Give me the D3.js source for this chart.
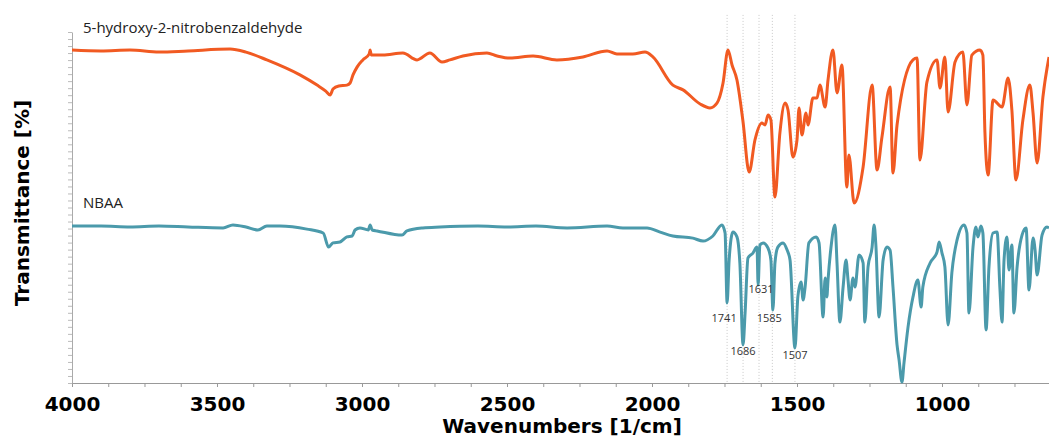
<!DOCTYPE html>
<html>
<head>
<meta charset="utf-8">
<script src="https://cdn.jsdelivr.net/npm/d3@7"></script>
<style>
  body { margin: 0; background: #fff; }
  svg { display: block; }
</style>
</head>
<body>
<svg id="chart"></svg>
<script>
// wavenumbers [1/cm] and transmittance (offset, arbitrary units)
var wnOrange = [4000, 3900, 3800, 3700, 3600, 3455, 3400, 3328, 3214, 3155, 3125, 3110, 3100, 3080, 3052, 3041, 3031, 3017, 2997, 2975, 2972, 2968, 2928, 2859, 2810, 2766, 2724, 2697, 2652, 2569, 2534, 2490, 2410, 2328, 2238, 2155, 2121, 2066, 2024, 1997, 1928, 1893, 1834, 1800, 1776, 1755, 1738, 1724, 1707, 1690, 1686, 1665, 1645, 1621, 1610, 1600, 1590, 1576, 1559, 1541, 1531, 1514, 1500, 1493, 1483, 1469, 1462, 1445, 1431, 1421, 1403, 1393, 1376, 1362, 1345, 1328, 1321, 1303, 1272, 1241, 1224, 1207, 1179, 1169, 1155, 1100, 1086, 1076, 1052, 1017, 1007, 990, 979, 955, 928, 914, 897, 869, 859, 852, 841, 824, 793, 772, 759, 745, 721, 697, 686, 672, 652, 631];
var tOrange = [111, 110.7, 111, 110.3, 110.7, 111.3, 110.3, 107.7, 102.7, 99.3, 97.3, 96, 98, 99, 99.3, 100, 102.7, 105.3, 107.7, 109.7, 111, 109.3, 109.3, 110, 107.7, 110, 107, 107.7, 109, 110, 109, 108.3, 109, 107.7, 108.7, 110.7, 109.7, 109.7, 110.3, 108.7, 99.3, 97.7, 93, 91.7, 93.3, 100, 111, 106, 101, 90, 87, 70.3, 81, 86.7, 86, 89.3, 87.7, 62, 83.3, 93.3, 91, 75.3, 81, 91.7, 82.7, 90, 86, 95, 95, 99.3, 92, 101, 111, 96.7, 106, 65.3, 76, 60, 72, 99.3, 71, 82, 98.7, 70, 86, 107.7, 108.3, 74.3, 100.3, 107.7, 98.3, 108.7, 90.3, 107, 110.3, 92.7, 109.3, 111, 109.3, 83.7, 69.3, 94.3, 92, 101.7, 91, 67.7, 87.7, 99.3, 90, 73.3, 95.3, 108.7];

var wnTeal = [4000, 3900, 3800, 3700, 3600, 3479, 3445, 3400, 3359, 3328, 3283, 3190, 3134, 3115, 3100, 3076, 3052, 3034, 3024, 3007, 2978, 2972, 2965, 2948, 2862, 2845, 2790, 2731, 2600, 2500, 2400, 2293, 2155, 2100, 2017, 1972, 1928, 1859, 1824, 1790, 1759, 1748, 1741, 1734, 1721, 1707, 1697, 1686, 1679, 1669, 1652, 1638, 1634, 1628, 1617, 1600, 1590, 1583, 1576, 1566, 1548, 1534, 1524, 1507, 1497, 1486, 1479, 1472, 1459, 1434, 1424, 1410, 1403, 1397, 1393, 1383, 1369, 1362, 1352, 1341, 1331, 1324, 1317, 1307, 1300, 1286, 1272, 1266, 1255, 1241, 1234, 1228, 1217, 1203, 1190, 1179, 1169, 1155, 1148, 1138, 1131, 1117, 1100, 1083, 1072, 1066, 1041, 1017, 1010, 1000, 990, 979, 966, 948, 924, 914, 907, 893, 883, 876, 866, 859, 848, 838, 824, 810, 800, 793, 786, 776, 769, 759, 752, 741, 724, 710, 700, 686, 679, 672, 655, 638, 631];
var tTeal = [52.3, 52.3, 52, 52.3, 52, 51.7, 52.7, 52, 51, 52.3, 52.3, 51.3, 50, 45.3, 46.7, 47, 48.7, 49, 51, 51.7, 51, 52.7, 51, 50.7, 49.3, 50.7, 51.7, 52, 52.3, 52, 52.3, 51.7, 52.3, 51.7, 51.7, 50.3, 49, 48.3, 47.3, 49, 52.7, 50, 26.7, 41, 50.3, 48.7, 40, 12.7, 23.3, 41.7, 43.3, 45.3, 32.7, 46, 46.7, 45, 41, 24.3, 40, 45.3, 46.7, 44.3, 41, 11.7, 28.7, 33.7, 27.7, 32, 46.7, 48.7, 46.7, 22, 35, 28.7, 34.3, 45, 52.7, 40, 20.3, 32, 41, 34.3, 27.7, 35, 32, 42.7, 40, 20.3, 38.7, 45.3, 52.7, 46, 22, 41, 45.3, 44.3, 32, 12.7, 7.7, 0.3, 6.7, 18.7, 28.7, 34.3, 25.3, 32, 40, 43.7, 47, 43.3, 38.7, 19.3, 36.7, 47.7, 52.7, 50, 23.3, 45.3, 52, 48.7, 52.3, 50, 17.7, 38.7, 50, 50.3, 31, 20.3, 41, 48.7, 37.7, 46, 23.3, 38.7, 49.3, 51.7, 31, 48.3, 44.3, 36, 49.3, 52, 51.7];

var peakLabels = ["1741", "1686", "1631", "1585", "1507"];
var peakLabelT = [20.3, 9.3, 30, 20.3, 8];
var xTickLabels = [4000, 3500, 3000, 2500, 2000, 1500, 1000];
var seriesNames = ["5-hydroxy-2-nitrobenzaldehyde", "NBAA"];
var seriesColors = ["#f15a22", "#4b9aab"];

var width = 1049, height = 439;
var svg = d3.select("#chart").attr("width", width).attr("height", height);

var x = d3.scaleLinear().domain([4000, 631]).range([72, 1049]);
var y = d3.scaleLinear().domain([0, 117]).range([383, 32]);

// dotted marker lines
svg.selectAll(".marker")
  .data(peakLabels)
  .enter().append("line")
  .attr("x1", function (d) { return x(+d); })
  .attr("x2", function (d) { return x(+d); })
  .attr("y1", y(122.7))
  .attr("y2", y(0))
  .attr("stroke", "#c8c8c8")
  .attr("stroke-width", 1)
  .attr("stroke-dasharray", "1,2");

// axes
var xAxis = d3.axisBottom(x)
  .tickValues(d3.range(4000, 630, -125))
  .tickFormat(function (d) { return xTickLabels.indexOf(d) >= 0 ? d : ""; })
  .tickSizeInner(4)
  .tickSizeOuter(0);

var gx = svg.append("g")
  .attr("transform", "translate(0," + y(0) + ")")
  .call(xAxis);
gx.select(".domain").attr("stroke", "#999");
gx.selectAll(".tick line").attr("stroke", "#999");
gx.selectAll(".tick text")
  .attr("fill", "#000")
  .attr("dy", "1.05em")
  .style("font-family", "'DejaVu Sans', Verdana, sans-serif")
  .style("font-weight", "bold")
  .style("font-size", "20px");

var yAxis = d3.axisLeft(y)
  .tickValues(d3.range(0, 117.1, 2.34))
  .tickFormat("")
  .tickSizeInner(4)
  .tickSizeOuter(0);

var gy = svg.append("g")
  .attr("transform", "translate(" + x(4000) + ",0)")
  .call(yAxis);
gy.select(".domain").attr("stroke", "#aaa");
gy.selectAll(".tick line").attr("stroke", "#bbb");

svg.append("text")
  .attr("x", 562)
  .attr("y", 433)
  .attr("text-anchor", "middle")
  .style("font-family", "'DejaVu Sans', Verdana, sans-serif")
  .style("font-weight", "bold")
  .style("font-size", "20px")
  .text("Wavenumbers [1/cm]");

svg.append("text")
  .attr("transform", "translate(29," + y(60) + ") rotate(-90)")
  .attr("text-anchor", "middle")
  .style("font-family", "'DejaVu Sans', Verdana, sans-serif")
  .style("font-weight", "bold")
  .style("font-size", "20px")
  .text("Transmittance [%]");

// spectra
var line = d3.line()
  .curve(d3.curveMonotoneX)
  .x(function (d) { return x(d[0]); })
  .y(function (d) { return y(d[1]); });

var series = [d3.zip(wnOrange, tOrange), d3.zip(wnTeal, tTeal)];

svg.selectAll(".spectrum")
  .data(series)
  .enter().append("path")
  .attr("class", "spectrum")
  .attr("d", line)
  .attr("fill", "none")
  .attr("stroke", function (d, i) { return seriesColors[i]; })
  .attr("stroke-width", 3)
  .attr("stroke-linejoin", "round");

// series names
svg.selectAll(".name")
  .data(seriesNames)
  .enter().append("text")
  .attr("x", 83)
  .attr("y", function (d, i) { return i === 0 ? y(116.7) : y(58.3); })
  .attr("fill", "#222")
  .style("font-family", "'Open Sans', sans-serif")
  .style("font-size", "15px")
  .text(function (d) { return d; });

// peak labels
svg.selectAll(".peak")
  .data(peakLabels)
  .enter().append("text")
  .attr("x", function (d) { return x(+d) + (d === "1741" ? -3 : d === "1585" ? -3 : d === "1631" ? 2 : 0); })
  .attr("y", function (d, i) { return y(peakLabelT[i]); })
  .attr("text-anchor", "middle")
  .attr("fill", "#333")
  .style("font-family", "'Open Sans', sans-serif")
  .style("font-size", "11px")
  .text(function (d) { return d; });
</script>
</body>
</html>
